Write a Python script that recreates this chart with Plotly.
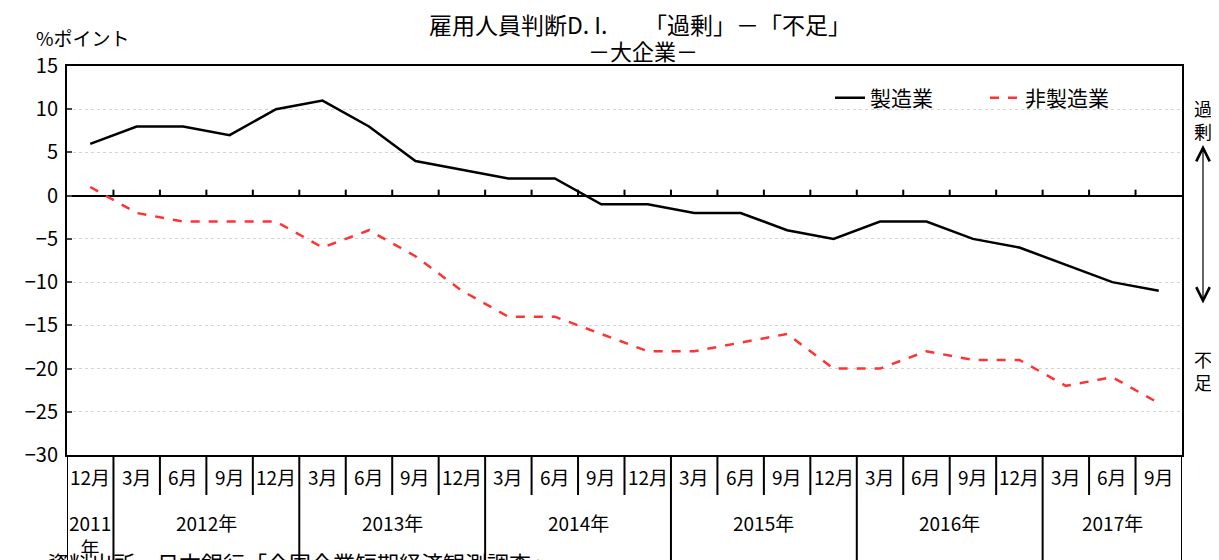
import plotly.graph_objects as go

# ---- data ----
months = ["12月", "3月", "6月", "9月", "12月", "3月", "6月", "9月", "12月",
          "3月", "6月", "9月", "12月", "3月", "6月", "9月", "12月",
          "3月", "6月", "9月", "12月", "3月", "6月", "9月"]
years = ["2011", "2012", "2012", "2012", "2012", "2013", "2013", "2013", "2013",
         "2014", "2014", "2014", "2014", "2015", "2015", "2015", "2015",
         "2016", "2016", "2016", "2016", "2017", "2017", "2017"]
manufacturing = [6, 8, 8, 7, 10, 11, 8, 4, 3, 2, 2, -1, -1, -2, -2, -4, -5, -3, -3, -5, -6, -8, -10, -11]
non_manufacturing = [1, -2, -3, -3, -3, -6, -4, -7, -11, -14, -14, -16, -18, -18, -17, -16, -20, -20, -18, -19, -19, -22, -21, -24]
year_labels = ["2011<br>年", "2012年", "2013年", "2014年", "2015年", "2016年", "2017年"]

FONT = "Noto Sans CJK JP"
x = list(range(len(months)))

fig = go.Figure()
fig.add_trace(go.Scatter(x=x, y=manufacturing, mode="lines", name="製造業", legend="legend",
                         line=dict(color="black", width=2.5)))
fig.add_trace(go.Scatter(x=x, y=non_manufacturing, mode="lines", name="非製造業", legend="legend2",
                         line=dict(color="#ff3333", width=2.5, dash="dash")))

# page body adds an 8px offset; the layout is expressed in screen pixels
OFF = 8
L, T, W_PLOT, H = 67, 66, 1115, 389
def px_x(sx):
    return (sx - L) / W_PLOT
def px_y(sy):
    return (T + H - sy) / H

n = len(x)
shapes = []
groups = []
for i, yv in enumerate(years):
    if not groups or groups[-1][0] != yv:
        groups.append([yv, i, i])
    else:
        groups[-1][2] = i
year_bounds = set([g[1] - 0.5 for g in groups] + [n - 0.5])
for k in range(n + 1):
    b = k - 0.5
    bottom = px_y(600) if b in year_bounds else px_y(495)
    shapes.append(dict(type="line", xref="x", yref="paper", x0=b, x1=b, y0=0, y1=bottom,
                       line=dict(color="black", width=2)))
# ticks on the zero line
for k in range(1, n):
    b = k - 0.5
    shapes.append(dict(type="line", xref="x", yref="y", ysizemode="pixel",
                       yanchor=0, x0=b, x1=b, y0=0, y1=6, line=dict(color="black", width=2)))

def txt(**kw):
    d = dict(showarrow=False, xanchor="center", yanchor="middle")
    d.update(kw)
    return d

annotations = []
for i, m in enumerate(months):
    annotations.append(txt(x=i, y=px_y(476), xref="x", yref="paper", text=m,
                           font=dict(size=19, family=FONT, color="black")))
for g, lab in zip(groups, year_labels):
    yy = px_y(535) if "<br>" in lab else px_y(522)
    annotations.append(txt(x=(g[1] + g[2]) / 2, y=yy, xref="x", yref="paper", text=lab,
                           font=dict(size=19, family=FONT, color="black")))

annotations += [
    txt(x=px_x(427), y=px_y(24), xref="paper", yref="paper", xanchor="left",
        text="雇用人員判断D. I.", font=dict(size=23, family=FONT, color="black")),
    txt(x=px_x(642), y=px_y(24), xref="paper", yref="paper", xanchor="left",
        text="「過剰」－「不足」", font=dict(size=23, family=FONT, color="black")),
    txt(x=px_x(643), y=px_y(50), xref="paper", yref="paper",
        text="－大企業－", font=dict(size=22, family=FONT, color="black")),
    txt(x=px_x(34), y=px_y(37), xref="paper", yref="paper", xanchor="left",
        text="%ポイント", font=dict(size=19, family=FONT, color="black")),
    txt(x=px_x(1203), y=px_y(119), xref="paper", yref="paper",
        text="過<br>剰", font=dict(size=18, family=FONT, color="black")),
    txt(x=px_x(1203), y=px_y(370), xref="paper", yref="paper",
        text="不<br>足", font=dict(size=18, family=FONT, color="black")),
    dict(x=px_x(1203), y=px_y(145), xref="paper", yref="paper",
         ax=0, ay=160, text="", showarrow=True, arrowhead=5, startarrowhead=5,
         arrowside="end+start", arrowsize=2.2, startarrowsize=2.2, arrowwidth=1.2,
         arrowcolor="black", standoff=0, startstandoff=0),
    txt(x=px_x(45), y=px_y(544), xref="paper", yref="paper", xanchor="left", yanchor="top",
        text="資料出所　日本銀行「全国企業短期経済観測調査」",
        font=dict(size=22, family=FONT, color="black")),
]

fig.update_layout(
    width=1219 - OFF, height=560 - OFF,
    margin=dict(l=L - OFF, r=1219 - L - W_PLOT, t=T - OFF, b=560 - T - H),
    paper_bgcolor="white", plot_bgcolor="white",
    font=dict(family=FONT, color="black", size=17),
    showlegend=True,
    legend=dict(orientation="h", x=px_x(938), xanchor="right", y=px_y(98), yanchor="middle",
                font=dict(size=21, family=FONT), bgcolor="rgba(0,0,0,0)"),
    legend2=dict(orientation="h", x=px_x(1114), xanchor="right", y=px_y(98), yanchor="middle",
                 font=dict(size=21, family=FONT), bgcolor="rgba(0,0,0,0)"),
    shapes=shapes, annotations=annotations,
)
fig.update_xaxes(range=[-0.5, n - 0.5], showticklabels=False, ticks="", showgrid=False,
                 zeroline=False, showline=True, mirror=True, linecolor="black", linewidth=2)
fig.update_yaxes(range=[-30, 15], dtick=5, tick0=0, ticks="inside", ticklen=5, tickcolor="#444",
                 tickwidth=2, showgrid=True, gridcolor="#d4d4d4", griddash="dot", gridwidth=1,
                 zeroline=True, zerolinecolor="black", zerolinewidth=2,
                 showline=True, mirror=True, linecolor="black", linewidth=2,
                 tickfont=dict(size=20, family=FONT), ticklabelstandoff=3)

fig.write_html("out.html")
